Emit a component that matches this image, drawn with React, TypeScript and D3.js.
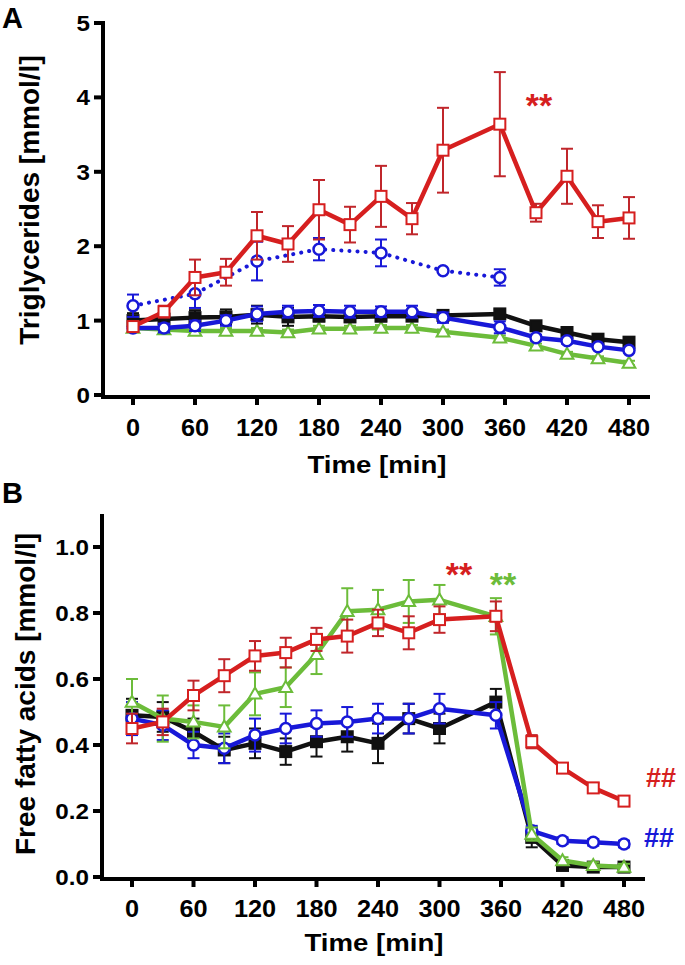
import React from 'react';
import * as d3 from 'd3';

// sampling times (min)
const times = [0, 30, 60, 90, 120, 150, 180, 210, 240, 270, 300, 355, 390, 420, 450, 480];
const fedTimes = [0, 60, 120, 180, 240, 300, 355];
const xTicks = [0, 60, 120, 180, 240, 300, 360, 420, 480];

// panel A: triglycerides [mmol/l]
const tgRed = [0.92, 1.12, 1.58, 1.65, 2.14, 2.03, 2.49, 2.29, 2.67, 2.37, 3.29, 3.64, 2.45, 2.94, 2.33, 2.38];
const tgRedErr = [0.05, 0.08, 0.24, 0.18, 0.32, 0.24, 0.4, 0.24, 0.41, 0.21, 0.57, 0.7, 0.12, 0.37, 0.22, 0.28];
const tgBlack = [1.0, 1.02, 1.04, 1.05, 1.08, 1.05, 1.06, 1.05, 1.06, 1.06, 1.07, 1.09, 0.93, 0.84, 0.75, 0.71];
const tgBlackErr = [0.1, 0.08, 0.1, 0.1, 0.12, 0.12, 0.07, 0.07, 0.07, 0.06, 0.06, 0.06, 0.06, 0.05, 0.05, 0.05];
const tgBlue = [0.9, 0.9, 0.93, 1.0, 1.09, 1.12, 1.13, 1.12, 1.12, 1.12, 1.04, 0.91, 0.77, 0.73, 0.65, 0.6];
const tgBlueErr = [0.05, 0.06, 0.07, 0.07, 0.1, 0.08, 0.08, 0.08, 0.07, 0.08, 0.07, 0.08, 0.04, 0.04, 0.03, 0.03];
const tgGreen = [0.9, 0.88, 0.86, 0.86, 0.86, 0.84, 0.89, 0.89, 0.9, 0.9, 0.85, 0.77, 0.66, 0.55, 0.49, 0.43];
const tgGreenErr = [0.04, 0.03, 0.04, 0.04, 0.04, 0.04, 0.04, 0.04, 0.04, 0.04, 0.03, 0.03, 0.03, 0.03, 0.03, 0.03];
const tgBlueFed = [1.2, 1.36, 1.8, 1.96, 1.91, 1.67, 1.58];
const tgBlueFedErr = [0.15, 0.19, 0.26, 0.15, 0.18, 0.02, 0.11];
const tgYTicks = [0, 1, 2, 3, 4, 5];

// panel B: free fatty acids [mmol/l]
const ffaRed = [0.45, 0.47, 0.55, 0.61, 0.67, 0.68, 0.72, 0.73, 0.77, 0.74, 0.78, 0.79, 0.41, 0.33, 0.27, 0.23];
const ffaRedErr = [0.045, 0.04, 0.045, 0.05, 0.045, 0.045, 0.035, 0.05, 0.04, 0.05, 0.04, 0.045, 0.02, 0.015, 0.015, 0.015];
const ffaGreen = [0.53, 0.48, 0.47, 0.455, 0.555, 0.575, 0.675, 0.805, 0.81, 0.835, 0.84, 0.79, 0.13, 0.05, 0.035, 0.03];
const ffaGreenErr = [0.07, 0.07, 0.05, 0.065, 0.065, 0.06, 0.06, 0.07, 0.06, 0.065, 0.045, 0.055, 0.02, 0.01, 0.01, 0.01];
const ffaBlue = [0.48, 0.46, 0.4, 0.39, 0.43, 0.45, 0.465, 0.47, 0.48, 0.48, 0.51, 0.49, 0.14, 0.11, 0.105, 0.1];
const ffaBlueErr = [0.05, 0.045, 0.04, 0.045, 0.05, 0.045, 0.04, 0.045, 0.045, 0.045, 0.045, 0.04, 0.015, 0.01, 0.01, 0.01];
const ffaBlack = [0.49, 0.485, 0.44, 0.385, 0.405, 0.38, 0.41, 0.425, 0.405, 0.48, 0.45, 0.53, 0.12, 0.035, 0.03, 0.03];
const ffaBlackErr = [0.05, 0.045, 0.04, 0.04, 0.045, 0.04, 0.045, 0.045, 0.06, 0.045, 0.045, 0.04, 0.03, 0.01, 0.01, 0.01];
const ffaYTicks = [0, 0.2, 0.4, 0.6, 0.8, 1.0];

const RED = '#d61f1f';
const RED_ERR = '#c0262b';
const GREEN = '#6cbc3a';
const BLUE = '#1818d8';
const BLACK = '#111111';
const FONT = 'Liberation Sans, Arial, sans-serif';

type Series = {
  t: number[];
  v: number[];
  e: number[];
  color: string;
  errColor?: string;
  marker: 'square' | 'filled' | 'circle' | 'triangle';
  dotted?: boolean;
};

// the source figure's lettering is a bit wider than Arial, so stretch it
function WideText({ x, y, size, sx = 1.1, anchor = 'middle', fill = '#000', children }) {
  return (
    <text
      transform={`translate(${x},${y}) scale(${sx},1)`}
      fontSize={size}
      textAnchor={anchor}
      fill={fill}
    >
      {children}
    </text>
  );
}

function Marker({ kind, x, y, color }) {
  if (kind === 'circle') {
    return <circle cx={x} cy={y} r={5.5} fill="#fff" stroke={color} strokeWidth={2.5} />;
  }
  if (kind === 'triangle') {
    const p = d3.symbol().type(d3.symbolTriangle).size(70)();
    return <path d={p} transform={`translate(${x},${y + 1})`} fill="#fff" stroke={color} strokeWidth={2} />;
  }
  const s = 11;
  return (
    <rect
      x={x - s / 2}
      y={y - s / 2}
      width={s}
      height={s}
      fill={kind === 'filled' ? color : '#fff'}
      stroke={color}
      strokeWidth={2}
    />
  );
}

function SeriesMarks({ s, x, y }) {
  const line = d3
    .line<number>()
    .x((_, i) => x(s.t[i]))
    .y((d) => y(d));
  const ec = s.errColor || s.color;
  return (
    <g>
      {s.v.map((v, i) => {
        const cx = x(s.t[i]);
        const top = y(v + s.e[i]);
        const bot = y(v - s.e[i]);
        return (
          <g key={i} stroke={ec} strokeWidth={2}>
            <line x1={cx} x2={cx} y1={top} y2={bot} />
            <line x1={cx - 6} x2={cx + 6} y1={top} y2={top} />
            <line x1={cx - 6} x2={cx + 6} y1={bot} y2={bot} />
          </g>
        );
      })}
      <path
        d={line(s.v)}
        fill="none"
        stroke={s.color}
        strokeWidth={s.dotted ? 4 : 4.5}
        strokeDasharray={s.dotted ? '0.1 8' : undefined}
        strokeLinecap={s.dotted ? 'round' : 'butt'}
        strokeLinejoin="round"
      />
      {s.v.map((v, i) => (
        <Marker key={i} kind={s.marker} x={x(s.t[i])} y={y(v)} color={s.color} />
      ))}
    </g>
  );
}

function Panel({ x, y, yTicks, yFmt, series, xTitleY, xLabelY, yTitle, yTitleX, yTitleY, axisTop }) {
  const [x0, x1] = x.range();
  const y0 = y(0);
  const axisX = x0 - 30;
  return (
    <g fontFamily={FONT} fontWeight="bold">
      {series.map((s, i) => (
        <SeriesMarks key={i} s={s} x={x} y={y} />
      ))}
      {/* y axis */}
      <line x1={axisX} x2={axisX} y1={axisTop} y2={y0 + 4} stroke="#000" strokeWidth={4} />
      {yTicks.map((t) => (
        <g key={t}>
          <line x1={axisX - 9} x2={axisX} y1={y(t)} y2={y(t)} stroke="#000" strokeWidth={4} />
          <WideText x={axisX - 13} y={y(t) + 8} size={22} anchor="end">
            {yFmt(t)}
          </WideText>
        </g>
      ))}
      {/* x axis */}
      <line x1={axisX - 2} x2={x1 + 21} y1={y0 + 2} y2={y0 + 2} stroke="#000" strokeWidth={4} />
      {xTicks.map((t) => (
        <g key={t}>
          <line x1={x(t)} x2={x(t)} y1={y0 + 2} y2={y0 + 10} stroke="#000" strokeWidth={4} />
          <WideText x={x(t)} y={xLabelY} size={23}>
            {t}
          </WideText>
        </g>
      ))}
      <WideText x={(x0 + x1) / 2 - 4} y={xTitleY} size={24} sx={1.15}>
        Time [min]
      </WideText>
      <text
        transform={`translate(${yTitleX},${yTitleY}) rotate(-90)`}
        textAnchor="middle"
        fontSize={28}
      >
        {yTitle}
      </text>
    </g>
  );
}

export default function App() {
  const xA = d3.scaleLinear().domain([0, 480]).range([133, 629]);
  const yA = d3.scaleLinear().domain([0, 5]).range([395, 23]);
  const xB = d3.scaleLinear().domain([0, 480]).range([132, 624]);
  const yB = d3.scaleLinear().domain([0, 1.1]).range([877, 514]);

  const seriesA: Series[] = [
    { t: times, v: tgGreen, e: tgGreenErr, color: GREEN, marker: 'triangle' },
    { t: times, v: tgBlack, e: tgBlackErr, color: BLACK, marker: 'filled' },
    { t: times, v: tgBlue, e: tgBlueErr, color: BLUE, marker: 'circle' },
    { t: fedTimes, v: tgBlueFed, e: tgBlueFedErr, color: BLUE, marker: 'circle', dotted: true },
    { t: times, v: tgRed, e: tgRedErr, color: RED, errColor: RED_ERR, marker: 'square' },
  ];
  const seriesB: Series[] = [
    { t: times, v: ffaBlack, e: ffaBlackErr, color: BLACK, marker: 'filled' },
    { t: times, v: ffaBlue, e: ffaBlueErr, color: BLUE, marker: 'circle' },
    { t: times, v: ffaGreen, e: ffaGreenErr, color: GREEN, marker: 'triangle' },
    { t: times, v: ffaRed, e: ffaRedErr, color: RED, errColor: RED_ERR, marker: 'square' },
  ];

  return (
    <svg
      width={685}
      height={965}
      style={{ position: 'absolute', left: 0, top: 0, background: '#fff' }}
    >
      <rect width={685} height={965} fill="#fff" />
      <Panel
        x={xA}
        y={yA}
        yTicks={tgYTicks}
        yFmt={(t) => String(t)}
        series={seriesA}
        xLabelY={436}
        xTitleY={473}
        yTitle="Triglycerides [mmol/l]"
        yTitleX={39}
        yTitleY={200}
        axisTop={21}
      />
      <Panel
        x={xB}
        y={yB}
        yTicks={ffaYTicks}
        yFmt={d3.format('.1f')}
        series={seriesB}
        xLabelY={917}
        xTitleY={951}
        yTitle="Free fatty acids [mmol/l]"
        yTitleX={35}
        yTitleY={694}
        axisTop={514}
      />
      <g fontFamily={FONT} fontWeight="bold">
        <text x={2} y={28} fontSize={29}>A</text>
        <text x={2} y={503} fontSize={29}>B</text>
        <text x={539} y={117} fontSize={34} fill={RED} textAnchor="middle">**</text>
        <text x={459} y={586} fontSize={34} fill={RED} textAnchor="middle">**</text>
        <text x={503} y={596} fontSize={34} fill={GREEN} textAnchor="middle">**</text>
        <text x={646} y={787} fontSize={27} fill={RED}>##</text>
        <text x={644} y={847} fontSize={27} fill={BLUE}>##</text>
      </g>
    </svg>
  );
}
